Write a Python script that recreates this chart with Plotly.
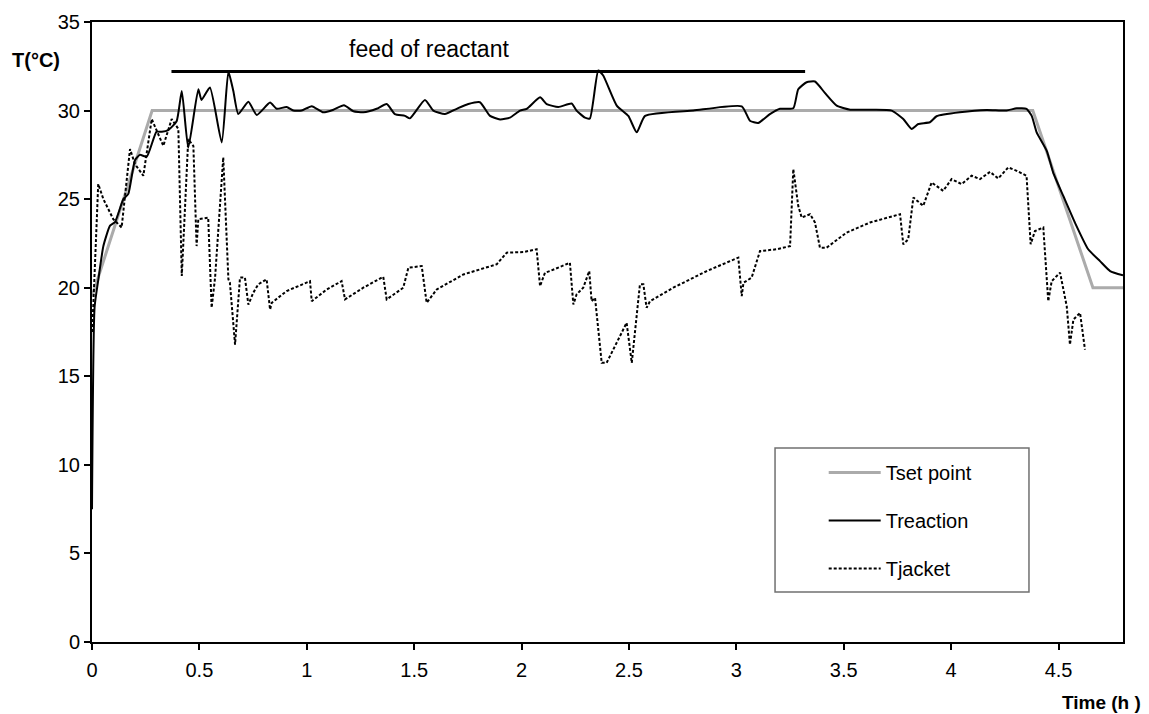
import plotly.graph_objects as go

# ---- data (time in h, temperature in °C) ----
tset_t = [0.0, 0.28, 4.38, 4.66, 4.8]
tset_T = [19.5, 30.0, 30.0, 20.0, 20.0]

treac_t = [0.000, 0.012, 0.030, 0.053, 0.084, 0.107, 0.146, 0.169, 0.200, 0.223,
           0.255, 0.300, 0.325, 0.355, 0.394, 0.418, 0.448, 0.495, 0.510, 0.549,
           0.604, 0.635, 0.658, 0.681, 0.728, 0.767, 0.829, 0.860, 0.906, 0.937,
           0.976, 1.023, 1.077, 1.124, 1.173, 1.217, 1.263, 1.325, 1.372, 1.410,
           1.457, 1.480, 1.550, 1.589, 1.643, 1.698, 1.752, 1.806, 1.853, 1.900,
           1.946, 1.993, 2.024, 2.086, 2.117, 2.171, 2.233, 2.256, 2.295, 2.318,
           2.357, 2.380, 2.443, 2.497, 2.536, 2.575, 2.800, 3.025, 3.063, 3.102,
           3.156, 3.203, 3.265, 3.288, 3.327, 3.366, 3.412, 3.467, 3.530, 3.637,
           3.723, 3.777, 3.816, 3.847, 3.901, 3.932, 4.040, 4.165, 4.258, 4.305,
           4.351, 4.375, 4.398, 4.445, 4.475, 4.522, 4.576, 4.638, 4.693, 4.740,
           4.800]
treac_T = [7.5, 18.9, 20.5, 22.35, 23.5, 23.7, 25.0, 25.3, 27.2, 27.5,
           27.4, 28.8, 28.8, 28.9, 29.4, 31.1, 27.9, 31.2, 30.6, 31.3,
           28.2, 32.2, 31.1, 29.8, 30.5, 29.75, 30.45, 30.1, 30.2, 30.0,
           30.0, 30.25, 29.9, 30.05, 30.3, 29.96, 29.9, 30.1, 30.37, 29.8,
           29.7, 29.56, 30.6, 30.0, 29.8, 30.1, 30.37, 30.47, 29.7, 29.5,
           29.6, 30.0, 30.1, 30.75, 30.37, 30.2, 30.4, 30.0, 29.6, 29.56,
           32.26, 31.98, 30.28, 29.7, 28.77, 29.7, 30.0, 30.24, 29.43, 29.3,
           29.8, 30.1, 30.13, 31.2, 31.6, 31.64, 31.0, 30.28, 30.05, 30.05,
           30.0, 29.52, 28.96, 29.24, 29.34, 29.68, 29.9, 30.03, 30.0, 30.13,
           30.09, 29.7, 28.77, 27.73, 26.5, 25.18, 23.68, 22.17, 21.5, 20.94,
           20.7]

tjack_t = [0.000, 0.006, 0.029, 0.053, 0.099, 0.138, 0.177, 0.200, 0.239, 0.278,
           0.332, 0.371, 0.402, 0.418, 0.448, 0.472, 0.487, 0.495, 0.541, 0.557,
           0.573, 0.611, 0.635, 0.642, 0.666, 0.689, 0.712, 0.728, 0.751, 0.774,
           0.813, 0.829, 0.837, 0.906, 1.015, 1.023, 1.093, 1.162, 1.178, 1.263,
           1.356, 1.372, 1.449, 1.473, 1.535, 1.558, 1.605, 1.729, 1.884, 1.931,
           2.008, 2.070, 2.086, 2.109, 2.132, 2.225, 2.241, 2.256, 2.287, 2.315,
           2.326, 2.342, 2.373, 2.396, 2.489, 2.513, 2.551, 2.567, 2.582, 2.598,
           2.706, 2.862, 3.009, 3.025, 3.033, 3.071, 3.110, 3.188, 3.250, 3.265,
           3.288, 3.304, 3.343, 3.366, 3.389, 3.420, 3.513, 3.622, 3.762, 3.777,
           3.800, 3.824, 3.870, 3.909, 3.963, 4.002, 4.049, 4.095, 4.134, 4.181,
           4.219, 4.266, 4.305, 4.351, 4.370, 4.390, 4.429, 4.452, 4.468, 4.507,
           4.538, 4.553, 4.569, 4.600, 4.623]
tjack_T = [17.5, 19.0, 25.85, 25.0, 23.87, 23.4, 27.83, 26.98, 26.32, 29.52,
           28.01, 29.52, 28.96, 20.66, 28.39, 28.0, 22.35, 23.87, 23.96, 18.87,
           20.57, 27.36, 20.47, 20.28, 16.79, 20.57, 20.57, 19.05, 19.72, 20.19,
           20.47, 18.77, 19.15, 19.81, 20.37, 19.24, 19.9, 20.37, 19.34, 20.0,
           20.62, 19.34, 20.0, 21.13, 21.22, 19.15, 19.9, 20.75, 21.32, 21.98,
           22.01, 22.17, 20.09, 20.85, 20.94, 21.41, 19.05, 19.62, 20.0, 20.94,
           19.24, 19.43, 15.76, 15.76, 18.02, 15.76, 20.19, 20.19, 18.87, 19.24,
           20.0, 20.94, 21.7, 19.52, 20.28, 20.57, 22.07, 22.17, 22.35, 26.7,
           24.62, 23.96, 24.15, 23.68, 22.26, 22.26, 23.11, 23.68, 24.15, 22.45,
           22.73, 25.09, 24.62, 25.94, 25.47, 26.13, 25.85, 26.32, 26.13, 26.54,
           26.17, 26.79, 26.6, 26.32, 22.45, 23.2, 23.4, 19.24, 20.37, 20.85,
           18.96, 16.79, 18.2, 18.58, 16.5]

feed_t = [0.37, 3.32]
feed_T = [32.2, 32.2]
feed_label = "feed of reactant"
feed_label_pos = (1.571, 33.45)

x_ticks = [0, 0.5, 1, 1.5, 2, 2.5, 3, 3.5, 4, 4.5]
x_ticklabels = ["0", "0.5", "1", "1.5", "2", "2.5", "3", "3.5", "4", "4.5"]
y_ticks = [0, 5, 10, 15, 20, 25, 30, 35]

FONT = "Liberation Sans, Arial, Helvetica, sans-serif"

fig = go.Figure()
fig.add_trace(go.Scatter(x=tset_t, y=tset_T, mode="lines", name="Tset point",
                         line=dict(color="#ababab", width=3), legendgroup="a"))
fig.add_trace(go.Scatter(x=treac_t, y=treac_T, mode="lines", name="Treaction",
                         line=dict(color="black", width=2, shape="spline", smoothing=0.5),
                         legendgroup="b"))
fig.add_trace(go.Scatter(x=tjack_t, y=tjack_T, mode="lines", name="Tjacket",
                         line=dict(color="black", width=2, dash="3px,2px"), legendgroup="c"))
fig.add_trace(go.Scatter(x=feed_t, y=feed_T, mode="lines", showlegend=False,
                         line=dict(color="black", width=3), hoverinfo="skip"))

fig.add_annotation(x=feed_label_pos[0], y=feed_label_pos[1], text=feed_label,
                   showarrow=False, font=dict(family=FONT, size=23, color="black"),
                   xanchor="center", yanchor="middle")
fig.add_annotation(xref="paper", yref="paper", x=-0.0543, y=0.9387, text="<b>T(°C)</b>",
                   showarrow=False, font=dict(family=FONT, size=20, color="black"),
                   xanchor="center", yanchor="middle")
fig.add_annotation(xref="paper", yref="paper", x=0.9796, y=-0.098, text="<b>Time (h )</b>",
                   showarrow=False, font=dict(family=FONT, size=19, color="black"),
                   xanchor="center", yanchor="middle")

# legend frame
fig.add_shape(type="rect", xref="paper", yref="paper", x0=0.6625, x1=0.9088,
              y0=0.0806, y1=0.3129, line=dict(color="#707070", width=1.5),
              fillcolor="rgba(0,0,0,0)")

fig.update_layout(
    width=1149, height=714,
    margin=dict(l=92, r=26, t=22, b=72),
    paper_bgcolor="white", plot_bgcolor="white",
    font=dict(family=FONT, size=20, color="black"),
    showlegend=True,
    legend=dict(x=0.7097, y=0.305, xanchor="left", yanchor="top",
                bgcolor="rgba(0,0,0,0)", borderwidth=0,
                font=dict(family=FONT, size=20, color="black"),
                tracegroupgap=19, itemwidth=52),
)
fig.update_xaxes(range=[0, 4.8], tickvals=x_ticks, ticktext=x_ticklabels,
                 showgrid=False, zeroline=False, showline=True, linecolor="black",
                 linewidth=2, mirror=True, ticks="outside", ticklen=6, tickwidth=1.5,
                 tickcolor="black", tickfont=dict(family=FONT, size=20),
                 ticklabelstandoff=3)
fig.update_yaxes(range=[0, 35], tickvals=y_ticks,
                 showgrid=False, zeroline=False, showline=True, linecolor="black",
                 linewidth=2, mirror=True, ticks="outside", ticklen=6, tickwidth=1.5,
                 tickcolor="black", tickfont=dict(family=FONT, size=20))

fig.write_html("out.html")
